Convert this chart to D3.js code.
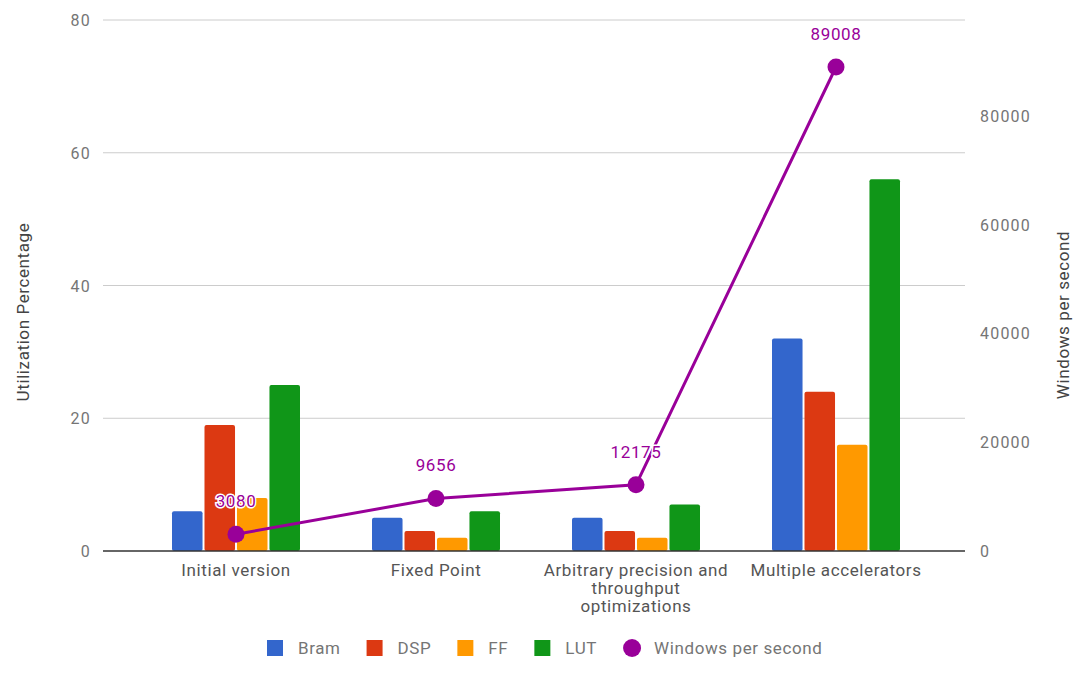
<!DOCTYPE html>
<html>
<head>
<meta charset="utf-8">
<script src="https://cdn.jsdelivr.net/npm/d3@7"></script>
<style>
  body { margin: 0; background: #fff; }
  text { font-family: Roboto, "Noto Sans", sans-serif; }
</style>
</head>
<body>
<div id="chart"></div>
<script>
// Data
var categories = ["Initial version", "Fixed Point", "Arbitrary precision and throughput optimizations", "Multiple accelerators"];
var categoryLines = [["Initial version"], ["Fixed Point"], ["Arbitrary precision and", "throughput", "optimizations"], ["Multiple accelerators"]];
var series = ["Bram", "DSP", "FF", "LUT"];
var bram = [6, 5, 5, 32];
var dsp = [19, 3, 3, 24];
var ff = [8, 2, 2, 16];
var lut = [25, 6, 7, 56];
var windowsPerSecond = [3080, 9656, 12175, 89008];
var leftTicks = [0, 20, 40, 60, 80];
var rightTicks = [0, 20000, 40000, 60000, 80000];

var drawChart = function() {
    var width = 1073, height = 689;
    var colors = {Bram: "#3366cc", DSP: "#dc3912", FF: "#ff9900", LUT: "#109618"};
    var lineColor = "#990099";
    var values = [bram, dsp, ff, lut];
    // the reference text looks a bit wide, so a little letter spacing
    var spacing = "0.6px";

    var svg = d3.select("#chart").append("svg")
        .attr("width", width)
        .attr("height", height);

    // scales
    var x0 = d3.scaleBand().domain(categories).range([136, 936]);
    var x1 = d3.scaleBand().domain(series).range([-64, 64]).paddingInner(0.06);
    var y = d3.scaleLinear().domain([0, 80]).range([551, 20]);
    var y2 = d3.scaleLinear().domain([0, 97650]).range([551, 20]);
    var cx = function(c) { return x0(c) + x0.bandwidth() / 2; };

    // gridlines
    svg.append("g").selectAll("line")
        .data(leftTicks.slice(1))
        .join("line")
        .attr("x1", 103).attr("x2", 965)
        .attr("y1", d => y(d)).attr("y2", d => y(d))
        .attr("stroke", "#cccccc").attr("stroke-width", 1);

    // left axis labels
    svg.append("g").selectAll("text")
        .data(leftTicks)
        .join("text")
        .attr("x", 91).attr("y", d => y(d) + 6)
        .attr("text-anchor", "end")
        .attr("font-size", 16).attr("fill", "#757575")
        .attr("letter-spacing", "1.2px")
        .text(d => d);

    // right axis labels
    svg.append("g").selectAll("text")
        .data(rightTicks)
        .join("text")
        .attr("x", 980).attr("y", d => y2(d) + 6)
        .attr("text-anchor", "start")
        .attr("font-size", 16).attr("fill", "#757575")
        .attr("letter-spacing", "1.2px")
        .text(d => d);

    // axis titles
    svg.append("text")
        .attr("transform", "translate(29,312) rotate(-90)")
        .attr("text-anchor", "middle")
        .attr("font-size", 17).attr("fill", "#444")
        .attr("letter-spacing", spacing)
        .text("Utilization Percentage");
    svg.append("text")
        .attr("transform", "translate(1069,315) rotate(-90)")
        .attr("text-anchor", "middle")
        .attr("font-size", 17).attr("fill", "#444")
        .attr("letter-spacing", spacing)
        .text("Windows per second");

    // bars
    var barData = [];
    categories.forEach(function(c, i) {
        series.forEach(function(s, j) {
            barData.push({cat: c, key: s, val: values[j][i]});
        });
    });
    svg.append("g").selectAll("rect")
        .data(barData)
        .join("rect")
        .attr("x", d => cx(d.cat) + x1(d.key))
        .attr("width", x1.bandwidth())
        .attr("y", d => y(d.val))
        .attr("height", d => y(0) - y(d.val))
        .attr("rx", 2)
        .attr("fill", d => colors[d.key]);

    // baseline
    svg.append("line")
        .attr("x1", 103).attr("x2", 965)
        .attr("y1", y(0)).attr("y2", y(0))
        .attr("stroke", "#333").attr("stroke-width", 1.5);

    // category labels
    var catG = svg.append("g").selectAll("text")
        .data(categories)
        .join("text")
        .attr("x", d => cx(d))
        .attr("y", 576)
        .attr("text-anchor", "middle")
        .attr("font-size", 17).attr("fill", "#555")
        .attr("letter-spacing", spacing);
    catG.each(function(d, i) {
        d3.select(this).selectAll("tspan")
            .data(categoryLines[i])
            .join("tspan")
            .attr("x", cx(d))
            .attr("dy", (t, k) => k === 0 ? 0 : 18)
            .text(t => t);
    });

    // line series
    var lineData = categories.map((c, i) => ({cat: c, val: windowsPerSecond[i]}));
    var line = d3.line().x(d => cx(d.cat)).y(d => y2(d.val));
    svg.append("path")
        .datum(lineData)
        .attr("d", line)
        .attr("fill", "none")
        .attr("stroke", lineColor)
        .attr("stroke-width", 3);
    svg.append("g").selectAll("circle")
        .data(lineData)
        .join("circle")
        .attr("cx", d => cx(d.cat))
        .attr("cy", d => y2(d.val))
        .attr("r", 8.5)
        .attr("fill", lineColor);
    svg.append("g").selectAll("text")
        .data(lineData)
        .join("text")
        .attr("x", d => cx(d.cat))
        .attr("y", d => y2(d.val) - 27)
        .attr("text-anchor", "middle")
        .attr("font-size", 17)
        .attr("letter-spacing", spacing)
        .attr("fill", lineColor)
        .attr("stroke", "#fff").attr("stroke-width", 3)
        .attr("paint-order", "stroke")
        .text(d => d.val);

    // legend
    var legend = svg.append("g");
    var lx = 267, ly = 648;
    var items = series.concat(["Windows per second"]);
    items.forEach(function(name, i) {
        var g = legend.append("g");
        if (i < series.length) {
            g.append("rect")
                .attr("x", lx).attr("y", ly - 8)
                .attr("width", 16).attr("height", 16)
                .attr("fill", colors[name]);
        } else {
            g.append("circle")
                .attr("cx", lx + 9).attr("cy", ly)
                .attr("r", 9).attr("fill", lineColor);
        }
        var t = g.append("text")
            .attr("x", lx + 31).attr("y", ly + 6)
            .attr("font-size", 17).attr("fill", "#757575")
            .attr("letter-spacing", spacing)
            .text(name);
        lx += 31 + t.node().getComputedTextLength() + 26;
    });
};

window.addEventListener("load", drawChart);
</script>
</body>
</html>
